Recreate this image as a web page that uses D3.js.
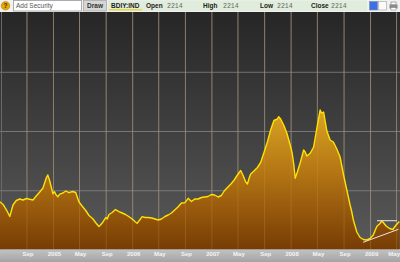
<!DOCTYPE html>
<html><head><meta charset="utf-8">
<script src="https://cdn.jsdelivr.net/npm/d3@7"></script>
<style>html,body{margin:0;padding:0;background:#f2f2f2;overflow:hidden}svg{display:block}</style>
</head><body>
<script>
// ---- data ----
const ticker = "BDIY:IND";
const quoteLabels = ["Open", "High", "Low", "Close"];
const quoteValues = ["2214", "2214", "2214", "2214"];
const yGridValues = [5000, 10000, 15000];
const bdiSeries = [
["2004-05-01",4034],["2004-05-16",3800],["2004-06-01",3333],["2004-06-16",2785],
["2004-07-01",3755],["2004-07-16",4135],["2004-08-01",4262],["2004-08-16",4177],
["2004-09-01",4304],["2004-09-16",4236],["2004-10-01",4177],["2004-10-16",4515],
["2004-11-01",4852],["2004-11-16",5190],["2004-12-01",6034],["2004-12-08",6287],["2004-12-16",5865],
["2005-01-01",4700],["2005-01-08",4878],["2005-01-16",4599],["2005-01-24",4456],["2005-02-01",4680],["2005-02-16",4768],
["2005-03-01",4937],["2005-03-16",4793],["2005-04-01",4895],["2005-04-16",4810],
["2005-05-01",4008],["2005-05-16",3646],["2005-06-01",3291],["2005-06-16",2869],
["2005-07-01",2633],["2005-07-08",2490],["2005-07-16",2278],["2005-08-01",1941],["2005-08-08",2068],["2005-08-16",2236],
["2005-09-01",2700],["2005-09-08",2574],["2005-09-16",2954],["2005-10-01",3122],["2005-10-16",3376],
["2005-11-01",3190],["2005-11-16",3080],["2005-12-01",2954],["2005-12-16",2785],
["2006-01-01",2574],["2006-01-16",2321],["2006-01-24",2211],["2006-02-08",2574],["2006-02-16",2768],
["2006-03-01",2700],["2006-03-16",2700],["2006-04-01",2658],["2006-04-16",2574],
["2006-05-01",2489],["2006-05-16",2574],["2006-06-01",2785],["2006-06-16",2911],
["2006-07-01",3080],["2006-07-16",3333],["2006-08-01",3612],["2006-08-16",3924],
["2006-09-01",3949],["2006-09-16",4321],["2006-10-01",4051],["2006-10-16",4262],
["2006-11-01",4262],["2006-11-16",4388],["2006-12-01",4430],["2006-12-16",4473],
["2007-01-01",4641],["2007-01-16",4599],["2007-02-01",4430],["2007-02-16",4557],
["2007-03-01",4937],["2007-03-16",5232],["2007-04-01",5527],["2007-04-16",5865],
["2007-05-01",6287],["2007-05-16",6667],["2007-05-24",6371],["2007-06-01",6034],["2007-06-08",5696],["2007-06-16",5527],["2007-06-24",6034],
["2007-07-01",6371],["2007-07-16",6624],["2007-08-01",6920],["2007-08-16",7342],
["2007-09-01",8228],["2007-09-16",9072],["2007-10-01",10085],["2007-10-16",10886],
["2007-11-01",11013],["2007-11-07",11207],["2007-11-16",11013],["2007-12-01",10464],["2007-12-16",9747],
["2008-01-01",8692],["2008-01-08",8143],["2008-01-16",7131],["2008-01-22",6008],["2008-02-01",6540],["2008-02-16",7426],
["2008-03-01",8397],["2008-03-08",8228],["2008-03-16",7890],["2008-04-01",8143],["2008-04-16",8650],
["2008-05-01",10253],["2008-05-16",11772],["2008-05-23",11519],["2008-06-01",11603],["2008-06-16",10000],
["2008-07-01",9241],["2008-07-16",9072],["2008-08-01",8481],["2008-08-16",7806],
["2008-09-01",6287],["2008-09-16",5021],["2008-10-01",3755],["2008-10-08",3249],["2008-10-16",2489],
["2008-11-01",1477],["2008-11-16",1013],["2008-12-01",844],["2008-12-16",802],
["2009-01-01",928],["2009-01-16",1224],["2009-02-01",1941],["2009-02-16",2194],["2009-02-24",2405],
["2009-03-01",2321],["2009-03-16",1983],["2009-04-01",1772],["2009-04-16",1688],
["2009-05-01",2068],["2009-05-16",2363]
];
// user-drawn trend lines: [startDate, startValue, endDate, endValue]
const trendLines = [
["2009-02-02",2430,"2009-05-05",2430],
["2008-11-30",608,"2009-05-12",1705]
];
const xDomain = ["2004-05-02","2009-05-19"];
const yDomain = [0, 20000];

// ---- drawing ----
const W = 400, H = 262;
const plotTop = 12, plotBottom = 249.5;
const parse = d3.timeParse("%Y-%m-%d");
const data = bdiSeries.map(d => ({date: parse(d[0]), value: d[1]}));

const x = d3.scaleTime().domain(xDomain.map(parse)).range([0, W]);
const y = d3.scaleLinear().domain(yDomain).range([plotBottom, plotTop + 0.5]);

const svg = d3.select("body").append("svg").attr("width", W).attr("height", H);
const defs = svg.append("defs");

const bg = defs.append("linearGradient").attr("id","bg").attr("x1",0).attr("y1",0).attr("x2",0).attr("y2",1);
bg.append("stop").attr("offset","0%").attr("stop-color","#262626");
bg.append("stop").attr("offset","100%").attr("stop-color","#5a5a5a");

const fillG = defs.append("linearGradient").attr("id","fillG").attr("gradientUnits","userSpaceOnUse")
  .attr("x1",0).attr("x2",0).attr("y1",y(11800)).attr("y2",plotBottom);
fillG.append("stop").attr("offset","0%").attr("stop-color","#d9a521");
fillG.append("stop").attr("offset","45%").attr("stop-color","#b47514");
fillG.append("stop").attr("offset","100%").attr("stop-color","#773c05");

const axG = defs.append("linearGradient").attr("id","axG").attr("x1",0).attr("y1",0).attr("x2",0).attr("y2",1);
axG.append("stop").attr("offset","0%").attr("stop-color","#c2c2c2");
axG.append("stop").attr("offset","100%").attr("stop-color","#a4a4a4");

// toolbar
svg.append("rect").attr("x",0).attr("y",0).attr("width",W).attr("height",plotTop).attr("fill","#f1f1f1");
svg.append("circle").attr("cx",5.5).attr("cy",5.8).attr("r",4.3).attr("fill","#e6a800").attr("stroke","#b07a00").attr("stroke-width",0.5);
svg.append("text").attr("x",5.5).attr("y",8.3).attr("text-anchor","middle").attr("font-family","Liberation Sans").attr("font-weight","bold").attr("font-size",6.5).attr("fill","#3a2a00").text("?");
svg.append("rect").attr("x",13.5).attr("y",0.5).attr("width",68).attr("height",10.5).attr("fill","#fff").attr("stroke","#9a9a9a").attr("stroke-width",0.8);
svg.append("text").attr("x",16).attr("y",8.3).attr("font-family","Liberation Sans").attr("font-size",6.5).attr("fill","#555").text("Add Security");
svg.append("rect").attr("x",83.5).attr("y",0.5).attr("width",23).attr("height",10.5).attr("fill","#d6d6d6").attr("stroke","#a8a8a8").attr("stroke-width",0.8);
svg.append("text").attr("x",95).attr("y",8.3).attr("text-anchor","middle").attr("font-family","Liberation Sans").attr("font-weight","bold").attr("font-size",6.5).attr("fill","#333").text("Draw");
svg.append("rect").attr("x",108).attr("y",0.5).attr("width",259).attr("height",10.5).attr("fill","#e1eddc");
svg.append("text").attr("x",111).attr("y",7.8).attr("font-family","Liberation Sans").attr("font-weight","bold").attr("font-size",6.5).attr("fill","#222").text(ticker);
svg.append("rect").attr("x",109).attr("y",9.3).attr("width",33).attr("height",1.1).attr("fill","#f2cf00");
const labelX = [146, 203, 260, 311], valueX = [167, 223, 277, 331];
quoteLabels.forEach((l,i) => {
  svg.append("text").attr("x",labelX[i]).attr("y",7.8).attr("font-family","Liberation Sans").attr("font-weight","bold").attr("font-size",6.5).attr("fill","#222").text(l);
  svg.append("text").attr("x",valueX[i]).attr("y",7.8).attr("font-family","Liberation Mono").attr("font-size",6.5).attr("fill","#666").text(quoteValues[i]);
});
svg.append("rect").attr("x",369.5).attr("y",1.5).attr("width",8).attr("height",8.5).attr("fill","#3d6fe6").attr("stroke","#7a8aa8").attr("stroke-width",0.6);
svg.append("rect").attr("x",378.5).attr("y",1.5).attr("width",8).attr("height",8.5).attr("fill","#fafafa").attr("stroke","#a0a0a0").attr("stroke-width",0.6);
// printer icon
svg.append("rect").attr("x",391).attr("y",2).attr("width",5).attr("height",3).attr("fill","#fff").attr("stroke","#777").attr("stroke-width",0.6);
svg.append("rect").attr("x",389.5).attr("y",4.5).attr("width",8).attr("height",4).attr("fill","#8a8a8a");
svg.append("rect").attr("x",391).attr("y",7.5).attr("width",5).attr("height",2.5).attr("fill","#fff").attr("stroke","#777").attr("stroke-width",0.5);

// plot background
svg.append("rect").attr("x",0).attr("y",plotTop).attr("width",W).attr("height",plotBottom-plotTop).attr("fill","url(#bg)");

const tickDates = d3.timeMonths(x.domain()[0], x.domain()[1]).filter(d => [0,4,8].includes(d.getMonth()));

// vertical grid
svg.append("g").attr("transform",`translate(0,${plotBottom})`)
  .call(d3.axisBottom(x).tickValues(tickDates).tickSize(-(plotBottom-plotTop)).tickFormat(""))
  .call(g => g.select(".domain").remove())
  .call(g => g.selectAll("line").attr("stroke","#8a8a8a").attr("stroke-opacity",0.75).attr("stroke-width",1));
// horizontal grid
svg.append("g")
  .call(d3.axisLeft(y).tickValues(yGridValues).tickSize(-W).tickFormat(""))
  .call(g => g.select(".domain").remove())
  .call(g => g.selectAll("line").attr("stroke","#8a8a8a").attr("stroke-opacity",0.75).attr("stroke-width",1));
svg.append("line").attr("x1",1.5).attr("x2",1.5).attr("y1",plotTop).attr("y2",plotBottom).attr("stroke","#6a6a6a");

// area + line
const area = d3.area().x(d => x(d.date)).y0(y(0)).y1(d => y(d.value));
const line = d3.line().x(d => x(d.date)).y(d => y(d.value));
svg.append("path").datum(data).attr("d",area).attr("fill","url(#fillG)");
// faint vertical grid over fill
svg.append("g").attr("transform",`translate(0,${plotBottom})`)
  .call(d3.axisBottom(x).tickValues(tickDates).tickSize(-(plotBottom-plotTop)).tickFormat(""))
  .call(g => g.select(".domain").remove())
  .call(g => g.selectAll("line").attr("stroke","#d8a050").attr("stroke-opacity",0.25).attr("stroke-width",1));
svg.append("path").datum(data).attr("d",line).attr("fill","none").attr("stroke","#ffe000").attr("stroke-width",1.4).attr("stroke-linejoin","round");

// trend lines
trendLines.forEach(t => {
  svg.append("line").attr("x1",x(parse(t[0]))).attr("y1",y(t[1])).attr("x2",x(parse(t[2]))).attr("y2",y(t[3]))
    .attr("stroke","#e8e8e8").attr("stroke-width",1);
});

// x axis strip
svg.append("rect").attr("x",0).attr("y",plotBottom).attr("width",W).attr("height",H-plotBottom).attr("fill","url(#axG)");
const fmt = d => d.getMonth() === 0 ? d3.timeFormat("%Y")(d) : d3.timeFormat("%b")(d);
svg.append("g").attr("transform",`translate(1,${plotBottom})`)
  .call(d3.axisBottom(x).tickValues(tickDates).tickSize(0).tickPadding(2).tickFormat(fmt))
  .call(g => g.select(".domain").remove())
  .call(g => g.selectAll("text").attr("font-family","Liberation Sans").attr("font-weight","bold").attr("font-size",6).attr("fill","#f4f4f4"))
  .call(g => g.selectAll(".tick").filter((d,i,n) => i === n.length - 1).select("text").attr("text-anchor","end").attr("dx", W - 1.5 - x(tickDates[tickDates.length-1])));
</script>
</body></html>
